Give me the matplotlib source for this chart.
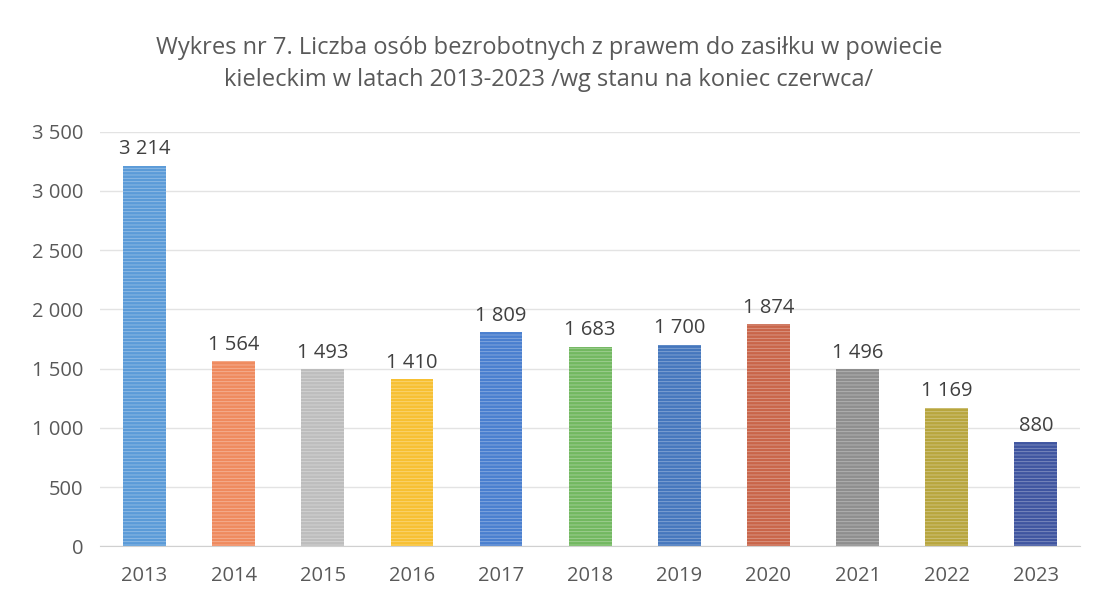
import matplotlib
matplotlib.use("Agg")
import matplotlib.pyplot as plt
from matplotlib.ticker import FuncFormatter

lata = ["2013", "2014", "2015", "2016", "2017", "2018", "2019", "2020", "2021", "2022", "2023"]
bezrobotni = [3214, 1564, 1493, 1410, 1809, 1683, 1700, 1874, 1496, 1169, 880]
kolory = ["#5b9bd8", "#ef8a5e", "#bdbdbd", "#f7c032", "#4a7fcf", "#72b860",
          "#4577bd", "#c9654a", "#8e8e8e", "#b8a63e", "#3f55a0"]

tytul = ("Wykres nr 7. Liczba osób bezrobotnych z prawem do zasiłku w powiecie\n"
         "kieleckim w latach 2013-2023 /wg stanu na koniec czerwca/")

def spacja(v):
    return f"{int(v):,}".replace(",", " ")

plt.rcParams["font.family"] = ["Open Sans", "DejaVu Sans"]
plt.rcParams["hatch.linewidth"] = 0.6
szary = "#595959"

fig = plt.figure(figsize=(10.98, 5.99), dpi=100)
ax = fig.add_axes([0.091, 0.088, 0.893, 0.692])

x = range(len(lata))
for i, (v, k) in enumerate(zip(bezrobotni, kolory)):
    ax.bar(i, v, width=0.48, color=k, edgecolor=(1, 1, 1, 0.35), linewidth=0,
           hatch="-----", zorder=3)
    ax.text(i, v + 55, spacja(v), ha="center", va="bottom", fontsize=14.5, color="#404040")

ax.set_xlim(-0.5, len(lata) - 0.5)
ax.set_ylim(0, 3500)
ax.set_yticks(range(0, 3501, 500))
ax.yaxis.set_major_formatter(FuncFormatter(lambda v, p: spacja(v)))
ax.set_xticks(list(x))
ax.set_xticklabels(lata)
ax.grid(axis="y", color="#e3e3e3", linewidth=1, zorder=0)
for s in ["top", "right", "left"]:
    ax.spines[s].set_visible(False)
ax.spines["bottom"].set_color("#d0d0d0")
ax.tick_params(axis="both", length=0, labelsize=14.5, colors=szary)
ax.tick_params(axis="y", pad=12)
ax.tick_params(axis="x", pad=14)

fig.text(0.5, 0.94, tytul, ha="center", va="top", fontsize=17, color=szary,
         linespacing=1.45)

fig.savefig("out.png", dpi=100, facecolor="white")
